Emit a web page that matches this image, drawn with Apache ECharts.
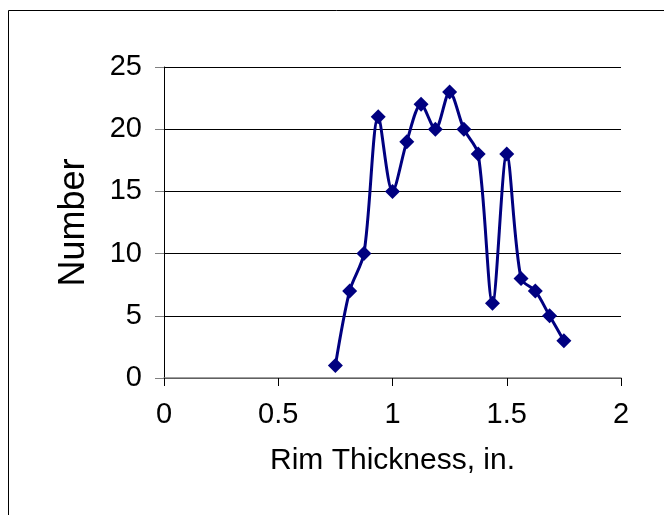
<!DOCTYPE html>
<html>
<head>
<meta charset="utf-8">
<script src="https://cdn.jsdelivr.net/npm/echarts@6/dist/echarts.min.js"></script>
<style>
  html, body { margin: 0; padding: 0; background: #fff; }
  #chart { width: 664px; height: 515px; }
</style>
</head>
<body>
<div id="chart"></div>
<script>
// rim thickness (in.) and count per bin
const thickness = [0.75, 0.8125, 0.875, 0.9375, 1.0, 1.0625, 1.125, 1.1875, 1.25,
                   1.3125, 1.375, 1.4375, 1.5, 1.5625, 1.625, 1.6875, 1.75];
const counts = [1, 7, 10, 21, 15, 19, 22, 20, 23, 20, 18, 6, 18, 8, 7, 5, 3];

const xTicks = [0, 0.5, 1, 1.5, 2];
const yTicks = [0, 5, 10, 15, 20, 25];

const font = '"Liberation Sans", Arial, sans-serif';
const chart = echarts.init(document.getElementById('chart'));

chart.setOption({
  animation: false,
  backgroundColor: '#fff',
  textStyle: { fontFamily: font },
  graphic: [{
    type: 'rect',
    shape: { x: 8.5, y: 10.5, width: 700, height: 600 },
    style: { fill: 'none', stroke: '#000', lineWidth: 1 },
    silent: true
  }],
  grid: { left: 164, right: 43, top: 67, bottom: 137, outerBoundsMode: 'none' },
  xAxis: {
    type: 'value',
    min: xTicks[0],
    max: xTicks[xTicks.length - 1],
    interval: 0.5,
    name: 'Rim Thickness, in.',
    nameLocation: 'middle',
    nameGap: 68,
    nameTextStyle: { fontSize: 30, color: '#000', fontFamily: font },
    axisLine: { onZero: false, lineStyle: { color: '#808080', width: 1.5 } },
    axisTick: { length: 8, lineStyle: { color: '#000' } },
    axisLabel: { fontSize: 29, color: '#000', margin: 22, fontFamily: font },
    splitLine: { show: false }
  },
  yAxis: {
    type: 'value',
    min: yTicks[0],
    max: yTicks[yTicks.length - 1],
    interval: 5,
    name: 'Number',
    nameLocation: 'middle',
    nameGap: 72,
    nameTextStyle: { fontSize: 36, color: '#000', fontFamily: font },
    axisLine: { show: true, lineStyle: { color: '#000', width: 1 } },
    axisTick: { show: true, length: 9, lineStyle: { color: '#808080' } },
    axisLabel: { fontSize: 29, color: '#000', margin: 22, fontFamily: font },
    splitLine: { show: true, lineStyle: { color: '#000', width: 1 } }
  },
  series: [{
    type: 'line',
    data: thickness.map((x, i) => [x, counts[i]]),
    smooth: 0.3,
    symbol: 'diamond',
    symbolSize: 15,
    lineStyle: { color: '#000080', width: 3 },
    itemStyle: { color: '#000080' },
    z: 5
  }]
});
</script>
</body>
</html>
